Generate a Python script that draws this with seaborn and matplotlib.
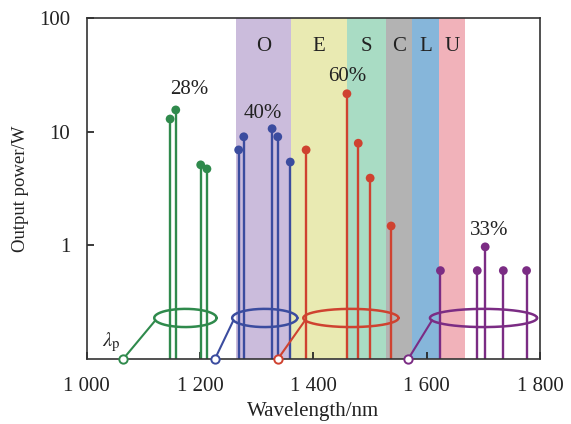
import numpy as np
import pandas as pd
import matplotlib
matplotlib.use("Agg")
import matplotlib.pyplot as plt
import seaborn as sns

# bands
band_names = ["O", "E", "S", "C", "L", "U"]
band_edges = [1263, 1360, 1459, 1528, 1573, 1622, 1668]
band_colors = ["#cbbcdc", "#e9eab2", "#a9dcc4", "#b3b3b3", "#86b6da", "#f1b2ba"]

# signal lines per cascade group
groups = ["g1", "g2", "g3", "g4"]
group_colors = {"g1": "#2f8a4c", "g2": "#3b4c9f", "g3": "#cf4230", "g4": "#7b2c84"}
wl_g1 = [1147, 1157, 1201, 1212]
pw_g1 = [12.9, 15.5, 5.1, 4.7]
wl_g2 = [1268, 1277, 1327, 1337, 1359]
pw_g2 = [6.9, 9.0, 10.6, 9.0, 5.4]
wl_g3 = [1387, 1459, 1479, 1500, 1537]
pw_g3 = [6.9, 21.5, 7.9, 3.9, 1.48]
wl_g4 = [1624, 1689, 1703, 1735, 1776]
pw_g4 = [0.6, 0.6, 0.97, 0.6, 0.6]

# pumps and ring symbols
pump_wl = [1064, 1226, 1337, 1567]
ring_center = [1174, 1314, 1466, 1700]
ring_width = [110, 115, 168, 189]
ring_level = 0.23
efficiency = ["28%", "40%", "60%", "33%"]
eff_pos = [(1180, 23.4), (1310, 14.3), (1460, 30.4), (1710, 1.35)]

y_floor = 0.1

rows = []
for g, wl, pw in zip(groups, [wl_g1, wl_g2, wl_g3, wl_g4], [pw_g1, pw_g2, pw_g3, pw_g4]):
    for w, p in zip(wl, pw):
        rows.append({"group": g, "wavelength": w, "power": p})
df = pd.DataFrame(rows)

sns.set_theme(style="ticks")
plt.rcParams["font.family"] = ["Liberation Serif", "DejaVu Serif"]
plt.rcParams["mathtext.fontset"] = "stix"

fig = plt.figure(figsize=(5.71, 4.24), dpi=100)
ax = fig.add_axes([0.152, 0.153, 0.794, 0.805])
ax.set_yscale("log")
ax.set_xlim(1000, 1800)
ax.set_ylim(0.1, 100)

for i, name in enumerate(band_names):
    ax.axvspan(band_edges[i], band_edges[i + 1], color=band_colors[i], lw=0, zorder=0)
    ax.text((band_edges[i] + band_edges[i + 1]) / 2, 56, name, ha="center", va="center",
            fontsize=15, color="#222222")

for g in groups:
    sub = df[df.group == g]
    ax.vlines(sub.wavelength, y_floor, sub.power, color=group_colors[g], lw=1.7, zorder=2)
sns.scatterplot(data=df, x="wavelength", y="power", hue="group", palette=group_colors,
                s=40, edgecolor="none", legend=False, ax=ax, zorder=3)

# ring symbols and pump links
t = np.linspace(0, 2 * np.pi, 200)
ly = np.log10(ring_level)
for g, pw, cx, w in zip(groups, pump_wl, ring_center, ring_width):
    c = group_colors[g]
    ax.plot(cx + w / 2 * np.cos(t), 10 ** (ly + 0.08 * np.sin(t)), color=c, lw=1.8, zorder=2)
    ax.plot([pw, cx - w / 2 * 0.96], [y_floor, 10 ** (ly - 0.02)], color=c, lw=1.5, zorder=2)
    ax.plot(pw, y_floor, "o", mfc="white", mec=c, ms=6, mew=1.4, clip_on=False, zorder=4)

for lab, (x, y) in zip(efficiency, eff_pos):
    ax.text(x, y, lab, ha="center", va="center", fontsize=15, color="#222222")

ax.text(1060, 0.14, r"$\lambda_\mathrm{p}$", ha="right", va="center", fontsize=15)

ax.set_xticks([1000, 1200, 1400, 1600, 1800])
ax.set_xticklabels(["1 000", "1 200", "1 400", "1 600", "1 800"])
ax.set_yticks([1, 10, 100])
ax.set_yticklabels(["1", "10", "100"])
ax.minorticks_off()
ax.tick_params(direction="in", length=5, labelsize=15, colors="#222222")
ax.tick_params(axis="y", pad=12)
ax.tick_params(axis="x", pad=13)
ax.set_xlabel("Wavelength/nm", fontsize=15, color="#222222", labelpad=4)
ax.set_ylabel("Output power/W", fontsize=13.5, color="#222222", labelpad=7)
for s in ax.spines.values():
    s.set_color("#333333")
    s.set_linewidth(1.2)

fig.savefig("out.png", dpi=100)
